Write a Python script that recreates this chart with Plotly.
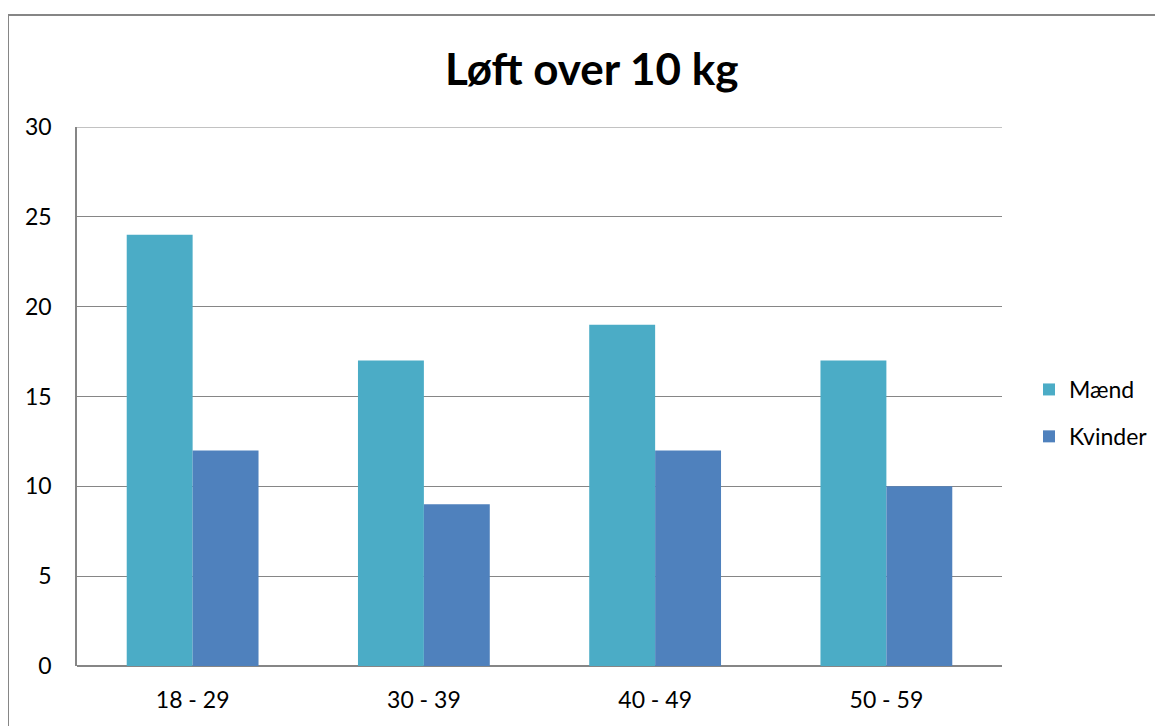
import plotly.graph_objects as go

categories = ["18 - 29", "30 - 39", "40 - 49", "50 - 59"]
maend = [24, 17, 19, 17]
kvinder = [12, 9, 12, 10]
y_ticks = [0, 5, 10, 15, 20, 25, 30]

# page has an 8px body margin, so work in shifted pixel coords
OFF = 8
W, H = 1163 - OFF, 726 - OFF
L, T = 77 - OFF, 127 - OFF
R = W - (1002 - OFF)
B = H - (666 - OFF)
pw, ph = W - L - R, H - T - B

fig = go.Figure()
fig.add_trace(go.Bar(x=categories, y=maend, name="Mænd", marker=dict(color="#4BACC6", line=dict(width=0)), legendgroup="a"))
fig.add_trace(go.Bar(x=categories, y=kvinder, name="Kvinder", marker=dict(color="#4F81BD", line=dict(width=0)), legendgroup="b"))

font = "Lato, 'Open Sans', sans-serif"
gray = "#868686"

def px_x(x):
    return (x - OFF - L) / pw

def px_y(y):
    return 1 - (y - OFF - T) / ph

fig.update_layout(
    width=W, height=H,
    margin=dict(l=L, r=R, t=T, b=B, autoexpand=False),
    paper_bgcolor="white", plot_bgcolor="white",
    barmode="group", bargap=0.43, bargroupgap=0,
    font=dict(family=font, size=23, color="black"),
    showlegend=True,
    legend=dict(x=px_x(1029), y=px_y(368), xanchor="left", yanchor="top",
                tracegroupgap=14, font=dict(size=23), itemwidth=30),
    xaxis=dict(showgrid=False, showline=False, ticks="", ticklabelstandoff=18,
               tickfont=dict(size=23)),
    yaxis=dict(range=[0, 30], tickvals=y_ticks, showgrid=True, gridcolor=gray, gridwidth=1,
               showline=True, linecolor=gray, linewidth=1.5, ticks="", ticklabelstandoff=19,
               zeroline=True, zerolinecolor=gray, zerolinewidth=1.5, tickfont=dict(size=23)),
    annotations=[dict(text="<b>Løft over 10 kg</b>", x=px_x(592), y=px_y(68), xref="paper", yref="paper",
                      showarrow=False, font=dict(size=44, family=font), xanchor="center", yanchor="middle")],
    shapes=[
        dict(type="line", xref="paper", yref="y", x0=0, x1=1, y0=30, y1=30,
             line=dict(color=gray, width=1)),
        dict(type="line", xref="paper", yref="paper", x0=px_x(8), x1=px_x(1175), y0=px_y(15), y1=px_y(15),
             line=dict(color=gray, width=2)),
        dict(type="line", xref="paper", yref="paper", x0=px_x(8), x1=px_x(8), y0=px_y(15), y1=px_y(740),
             line=dict(color=gray, width=2)),
    ],
)

fig.write_html("out.html")
